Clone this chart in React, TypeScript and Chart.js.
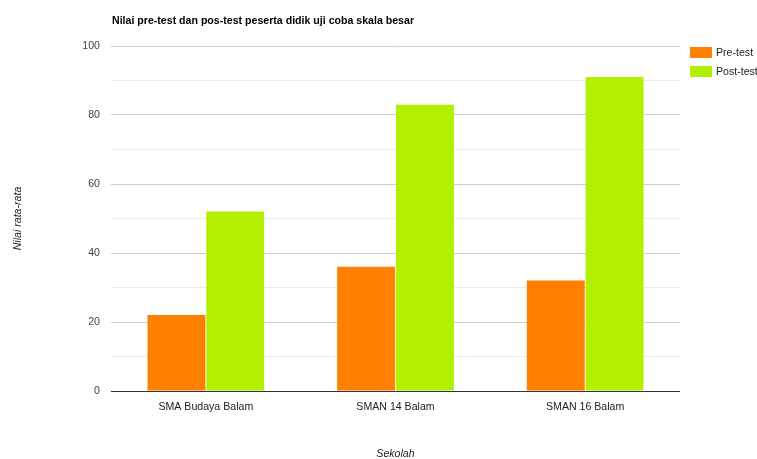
import React, { useEffect, useRef } from "react";
import { Chart, registerables } from "chart.js";

Chart.register(...registerables);

const categories = ["SMA Budaya Balam", "SMAN 14 Balam", "SMAN 16 Balam"];
const preTest = [22, 36, 32];
const postTest = [52, 83, 91];
const seriesNames = ["Pre-test", "Post-test"];
const seriesColors = ["#ff7f00", "#b3ef00"];
const chartTitle = "Nilai pre-test dan pos-test peserta didik uji coba skala besar";
const yTitle = "Nilai rata-rata";
const xTitle = "Sekolah";

const FONT = "Arial, 'Liberation Sans', sans-serif";
const FS = 10.6;

const overlayPlugin = {
  id: "overlay",
  afterDraw(chart: any) {
    const ctx = chart.ctx;
    const area = chart.chartArea;
    ctx.save();
    // title
    ctx.fillStyle = "#000";
    ctx.font = `bold ${FS}px ${FONT}`;
    ctx.textAlign = "left";
    ctx.textBaseline = "middle";
    ctx.fillText(chartTitle, area.left + 1, 21);
    // y title
    ctx.font = `italic ${FS}px ${FONT}`;
    ctx.fillStyle = "#222";
    ctx.save();
    ctx.translate(18, (area.top + area.bottom) / 2);
    ctx.rotate(-Math.PI / 2);
    ctx.textAlign = "center";
    ctx.fillText(yTitle, 0, 0);
    ctx.restore();
    // x title
    ctx.textAlign = "center";
    ctx.fillText(xTitle, (area.left + area.right) / 2, 454);
    // legend
    ctx.font = `${FS}px ${FONT}`;
    ctx.textAlign = "left";
    seriesNames.forEach((name, i) => {
      const y = 47 + i * 19;
      ctx.fillStyle = seriesColors[i];
      ctx.fillRect(690, y, 22, 11);
      ctx.fillStyle = "#222";
      ctx.fillText(name, 716, y + 6);
    });
    ctx.restore();
  },
};

export default function App() {
  const ref = useRef<HTMLCanvasElement>(null);
  useEffect(() => {
    if (!ref.current) return;
    const chart = new Chart(ref.current, {
      type: "bar",
      data: {
        labels: categories,
        datasets: [
          { label: seriesNames[0], data: preTest, backgroundColor: seriesColors[0], borderWidth: 0 },
          { label: seriesNames[1], data: postTest, backgroundColor: seriesColors[1], borderWidth: 0 },
        ],
      },
      options: {
        animation: false,
        responsive: false,
        maintainAspectRatio: false,
        layout: { padding: { left: 0, top: 46, right: 77, bottom: 0 } },
        plugins: {
          legend: { display: false },
          title: { display: false },
          tooltip: { enabled: false },
        },
        datasets: { bar: { categoryPercentage: 0.62, barPercentage: 0.985 } },
        scales: {
          x: {
            grid: { display: false, drawTicks: false },
            border: { display: false },
            ticks: { color: "#222", font: { family: FONT, size: FS }, padding: 10, maxRotation: 0 },
            afterFit: (s: any) => { s.height = 68; },
          },
          y: {
            min: 0,
            max: 100,
            border: { display: false },
            grid: {
              drawTicks: false,
              color: (c: any) => {
                const v = c.tick?.value;
                if (v === 0) return "#333";
                return v % 20 === 0 ? "#cccccc" : "#ebebeb";
              },
            },
            ticks: {
              stepSize: 10,
              color: "#444",
              padding: 11,
              font: { family: FONT, size: FS },
              callback: (v: any) => (Number(v) % 20 === 0 ? String(v) : ""),
            },
            afterFit: (s: any) => { s.width = 111; },
          },
        },
      },
      plugins: [overlayPlugin],
    });
    return () => chart.destroy();
  }, []);
  return (
    <div style={{ position: "fixed", left: 0, top: 0, width: 757, height: 459, background: "#fff" }}>
      <canvas ref={ref} width={757} height={459} style={{ width: 757, height: 459 }} />
    </div>
  );
}
